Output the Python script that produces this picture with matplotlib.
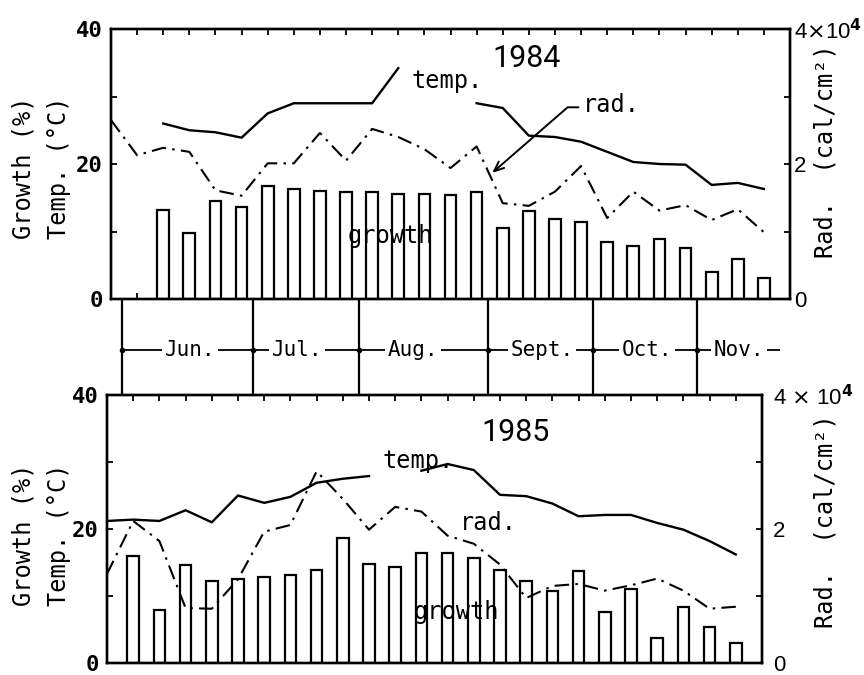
import numpy as np
import matplotlib
matplotlib.use("Agg")
import matplotlib.pyplot as plt

nan = np.nan

# ---------------- data (week index from start of each panel) ----------------
weeks_1984 = list(range(0, 26))
temp_1984 = [nan, nan, 26.0, 25.0, 24.7, 23.9, 27.5, 29.0, 29.0, 29.0, 29.0, 34.2,
             nan, nan, 29.0, 28.3, 24.2, 24.0, 23.3, 21.8, 20.3, 20.0, 19.9, 16.9, 17.2, 16.3]
rad_1984 = [2.65, 2.13, 2.24, 2.18, 1.61, 1.53, 2.01, 2.01, 2.46, 2.05, 2.52, 2.40,
            2.22, 1.94, 2.26, 1.42, 1.38, 1.59, 1.97, 1.20, 1.59, 1.31, 1.39, 1.17, 1.33, 0.99]
growth_weeks_1984 = list(range(2, 26))
growth_1984 = [13.2, 9.8, 14.5, 13.6, 16.7, 16.3, 16.0, 15.9, 15.9, 15.6, 15.6, 15.4,
               15.9, 10.5, 13.0, 11.8, 11.4, 8.4, 7.9, 8.9, 7.6, 4.0, 5.9, 3.1]

weeks_1985 = list(range(0, 25))
temp_1985 = [21.2, 21.4, 21.2, 22.8, 21.0, 25.0, 23.9, 24.8, 26.9, 27.5, 27.9, nan,
             28.7, 29.7, 28.8, 25.1, 24.9, 23.8, 21.9, 22.1, 22.1, 20.9, 19.9, 18.2, 16.2]
rad_1985 = [1.33, 2.12, 1.82, 0.82, 0.81, 1.25, 1.96, 2.06, 2.86, 2.45, 1.99, 2.33,
            2.26, 1.90, 1.78, 1.47, 0.97, 1.15, 1.18, 1.08, 1.16, 1.26, 1.08, 0.81, 0.84]
growth_weeks_1985 = list(range(1, 25))
growth_1985 = [15.9, 7.9, 14.6, 12.2, 12.6, 12.9, 13.1, 13.9, 18.7, 14.8, 14.4, 16.4,
               16.4, 15.6, 13.9, 12.2, 10.8, 13.8, 7.6, 11.1, 3.8, 8.4, 5.3, 3.0]

months = ["Jun.", "Jul.", "Aug.", "Sept.", "Oct.", "Nov."]
month_bounds = [0.44, 5.43, 9.49, 14.45, 18.47, 22.42]
month_label_x = [3.02, 7.12, 11.56, 16.5, 20.52, 24.04]

left_ticks = [0, 10, 20, 30, 40]
left_ticklabels = ["0", "", "20", "", "40"]
right_ticks = [0, 1, 2, 3, 4]
right_ticklabels_1984 = ["0", "", "2", "", r"4$\times$10$^{\mathbf{4}}$"]
right_ticklabels_1985 = ["0", "", "2", "", r"4 $\times$ 10$^{\mathbf{4}}$"]

MONO = "DejaVu Sans Mono"
W, H = 864, 675

fig = plt.figure(figsize=(8.64, 6.75), dpi=100)
fig.patch.set_facecolor("white")


def fx(px):
    return px / W


def fy(py):
    return 1 - py / H


def setup_panel(ax, nweeks, rpad, rlabels):
    ax.set_xlim(0, nweeks)
    ax.set_ylim(0, 40)
    for s in ax.spines.values():
        s.set_linewidth(1.7)
    ax.set_xticks(np.arange(0, nweeks + 1))
    ax.set_xticklabels([])
    ax.tick_params(axis="x", direction="in", length=4, width=1.3, top=True, bottom=True)
    ax.set_yticks(left_ticks)
    ax.set_yticklabels(left_ticklabels, fontfamily=MONO, fontweight="bold", fontsize=16)
    ax.tick_params(axis="y", direction="in", length=4, width=1.3, pad=6)
    axr = ax.twinx()
    axr.set_ylim(0, 4)
    axr.set_yticks(right_ticks)
    axr.set_yticklabels(rlabels, fontfamily="Liberation Sans", fontsize=16)
    axr.tick_params(axis="y", direction="in", length=4, width=1.3, pad=rpad)
    for s in axr.spines.values():
        s.set_linewidth(1.7)
    return axr


def draw(ax, axr, weeks, temp, rad, gweeks, growth):
    ax.bar(gweeks, growth, width=0.45, facecolor="white", edgecolor="black",
           linewidth=1.6, zorder=2)
    ax.plot(weeks, temp, color="black", lw=1.7, zorder=3)
    axr.plot(weeks, rad, color="black", lw=1.5, linestyle=(0, (7, 3, 1.2, 3)), zorder=3)


# ---------------- top panel 1984 ----------------
ax1 = fig.add_axes([fx(111), fy(299), fx(790) - fx(111), fy(29) - fy(299)])
ax1r = setup_panel(ax1, 26, 3, right_ticklabels_1984)
draw(ax1, ax1r, weeks_1984, temp_1984, rad_1984, growth_weeks_1984, growth_1984)
ax1.text(15.9, 35.6, "1984", fontfamily="Roboto", fontsize=22, ha="center", va="center")
ax1.text(11.5, 31.3, "temp.", fontfamily=MONO, fontsize=17, ha="left", va="baseline")
ax1.text(18.05, 27.7, "rad.", fontfamily=MONO, fontsize=17, ha="left", va="baseline")
ax1.annotate("", xy=(14.6, 18.7), xytext=(17.9, 28.4), xycoords="data",
             arrowprops=dict(arrowstyle="->,head_length=0.7,head_width=0.3",
                             connectionstyle="angle,angleA=0,angleB=41,rad=0",
                             color="black", lw=1.4, shrinkA=0, shrinkB=0), zorder=4)
ax1.text(9.05, 8.3, "growth", fontfamily=MONO, fontsize=17, ha="left", va="baseline", zorder=5)

# ---------------- bottom panel 1985 ----------------
ax2 = fig.add_axes([fx(107), fy(663), fx(762) - fx(107), fy(395) - fy(663)])
ax2r = setup_panel(ax2, 25, 8, right_ticklabels_1985)
draw(ax2, ax2r, weeks_1985, temp_1985, rad_1985, growth_weeks_1985, growth_1985)
ax2.text(15.6, 34.4, "1985", fontfamily="Roboto", fontsize=22, ha="center", va="center")
ax2.text(10.5, 29.1, "temp.", fontfamily=MONO, fontsize=17, ha="left", va="baseline", zorder=5)
ax2.text(13.45, 19.9, "rad.", fontfamily=MONO, fontsize=17, ha="left", va="baseline", zorder=5)
ax2.text(11.7, 6.6, "growth", fontfamily=MONO, fontsize=17, ha="left", va="baseline", zorder=5)

# ---------------- month strip ----------------
axm = fig.add_axes([fx(111), fy(395), fx(790) - fx(111), fy(299) - fy(395)])
axm.set_xlim(0, 26)
axm.set_ylim(0, 1)
axm.axis("off")
ymid = (395 - 350) / 96
axm.vlines(month_bounds, 0, 1, color="black", lw=1.6)
axm.hlines(ymid, month_bounds[0], 25.6, color="black", lw=1.3)
axm.plot(month_bounds, [ymid] * len(month_bounds), "o", color="black", ms=3)
for m, xm in zip(months, month_label_x):
    axm.text(xm, ymid, m, fontfamily=MONO, fontsize=15, ha="center", va="center",
             bbox=dict(facecolor="white", edgecolor="none", pad=2))

# ---------------- axis labels ----------------
for cy in (168, 535):
    fig.text(fx(23), fy(cy), "Growth (%)", rotation=90, fontfamily=MONO, fontsize=17,
             ha="center", va="center")
    fig.text(fx(59), fy(cy), "Temp. (°C)", rotation=90, fontfamily=MONO, fontsize=17,
             ha="center", va="center")
fig.text(fx(826), fy(151), "Rad.  (cal/cm²)", rotation=90, fontfamily=MONO, fontsize=17,
         ha="center", va="center")
fig.text(fx(825), fy(521), "Rad.  (cal/cm²)", rotation=90, fontfamily=MONO, fontsize=17,
         ha="center", va="center")

fig.savefig("out.png", dpi=100, facecolor="white")
